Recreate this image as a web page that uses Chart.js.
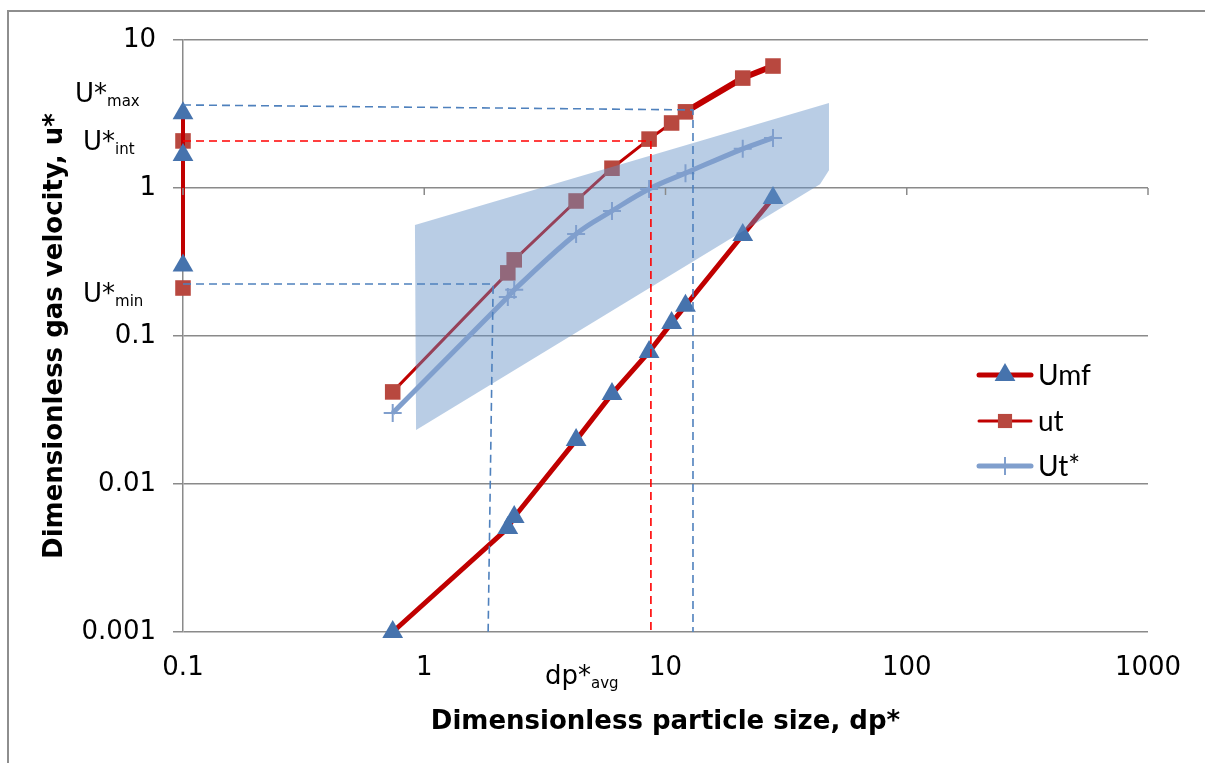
<!DOCTYPE html>
<html>
<head>
<meta charset="utf-8">
<script src="https://cdn.jsdelivr.net/npm/chart.js@4.4.1/dist/chart.umd.min.js"></script>
<style>
  html, body { margin: 0; padding: 0; background: #fff; overflow: hidden; }
  #chart { position: absolute; left: 0; top: 0; }
</style>
</head>
<body>
<canvas id="chart" width="1205" height="763"></canvas>
<script>
// Values (log-log axes)
const dpValues     = [0.74, 2.22, 2.36, 4.26, 6.0, 8.55, 10.6, 12.1, 20.9, 27.9];
const umfValues    = [0.001, 0.00504, 0.00598, 0.0198, 0.0406, 0.078, 0.1226, 0.16, 0.481, 0.856];
const utValues     = [0.0419, 0.267, 0.327, 0.817, 1.36, 2.14, 2.75, 3.27, 5.53, 6.67];
const utStarValues = [0.0302, 0.1836, 0.205, 0.489, 0.70, 0.985, null, 1.26, 1.84, 2.18];

// U* range drawn on the y axis (dp* = 0.1)
const rangeX       = [0.1, 0.1, 0.1];
const uStarRange   = [3.2, 1.67, 0.30];
const utRangeX     = [0.1, 0.1];
const utRange      = [2.08, 0.211];

// shaded band around Ut*
const bandX = [0.915, 47.6, 47.6, 43.7, 0.925];
const bandY = [0.562, 3.75, 1.32, 1.06, 0.0232];

// dashed guide lines
const uMaxGuideX = [0.1, 13.0, 13.0];
const uMaxGuideY = [3.64, 3.37, 0.001];
const uIntGuideX = [0.1, 8.7, 8.7];
const uIntGuideY = [2.08, 2.08, 0.001];
const uMinGuideX = [0.1, 1.93, 1.84];
const uMinGuideY = [0.2245, 0.2245, 0.001];

const xTickValues = [0.1, 1, 10, 100, 1000];
const xTickLabels = ['0.1', '1', '10', '100', '1000'];
const yTickValues = [0.001, 0.01, 0.1, 1, 10];
const yTickLabels = ['0.001', '0.01', '0.1', '1', '10'];

const RED = '#C00000';
const TRI_BLUE = '#4673AD';
const SQ_RED = '#B8483F';
const UT_BLUE = '#809FCD';
const GRID = '#8a8a8a';
const FONT = '"DejaVu Sans", Verdana, sans-serif';

function pts(xs, ys) {
    return xs.map((x, i) => ({ x: x, y: ys[i] })).filter(p => p.y !== null);
}

function guide(xs, ys, color) {
    return {
        data: pts(xs, ys), showLine: true, borderColor: color, borderWidth: 1.6,
        borderDash: [8, 5], pointRadius: 0, fill: false, order: 0, clip: false
    };
}

const overlayPlugin = {
    id: 'overlay',
    beforeDraw(chart) {
        // outer frame (left and top edges are the only ones inside the picture)
        const ctx = chart.ctx;
        ctx.save();
        ctx.strokeStyle = '#8e8e8e';
        ctx.lineWidth = 2;
        ctx.beginPath();
        ctx.moveTo(8, 763);
        ctx.lineTo(8, 11);
        ctx.lineTo(1205, 11);
        ctx.stroke();
        ctx.restore();
    },
    afterDraw(chart) {
        const ctx = chart.ctx;
        const xs = chart.scales.x, ys = chart.scales.y;
        ctx.save();

        // x axis tick marks sit on the u* = 1 line
        ctx.strokeStyle = GRID;
        ctx.lineWidth = 1.5;
        const yCross = ys.getPixelForValue(1);
        xTickValues.forEach(v => {
            const px = xs.getPixelForValue(v);
            ctx.beginPath();
            ctx.moveTo(px, yCross);
            ctx.lineTo(px, yCross + 7);
            ctx.stroke();
        });

        // labels with subscripts
        ctx.fillStyle = '#000';
        ctx.textBaseline = 'alphabetic';
        ctx.textAlign = 'left';
        const subLabel = (main, sub, x, y) => {
            ctx.font = '26px ' + FONT;
            ctx.fillText(main, x, y);
            const w = ctx.measureText(main).width;
            ctx.font = '15px ' + FONT;
            ctx.fillText(sub, x + w, y + 4);
        };
        subLabel('U*', 'max', 75, 102);
        subLabel('U*', 'int', 83, 150);
        subLabel('U*', 'min', 83, 302);
        subLabel('dp*', 'avg', 545, 684);

        // legend
        const items = [
            { text: 'Umf', color: RED, width: 5, style: 'triangle', radius: 12, fill: TRI_BLUE, y: 375 },
            { text: 'ut',  color: RED, width: 3, style: 'rect', radius: 10, fill: SQ_RED, y: 421 },
            { text: 'Ut*', color: UT_BLUE, width: 5, style: 'line', radius: 9, fill: UT_BLUE, y: 466 }
        ];
        items.forEach(it => {
            ctx.strokeStyle = it.color;
            ctx.lineWidth = it.width;
            ctx.lineCap = 'round';
            ctx.beginPath();
            ctx.moveTo(979, it.y);
            ctx.lineTo(1031, it.y);
            ctx.stroke();
            ctx.lineCap = 'butt';
            ctx.fillStyle = it.fill;
            ctx.strokeStyle = it.fill;
            ctx.lineWidth = 2;
            Chart.helpers.drawPoint(ctx, {
                pointStyle: it.style, radius: it.radius, rotation: it.style === 'line' ? 90 : 0,
                borderWidth: it.style === 'line' ? 2 : 0
            }, 1005, it.y);
            ctx.fillStyle = '#000';
            ctx.font = '28px Lato, "Open Sans", sans-serif';
            ctx.textBaseline = 'middle';
            ctx.fillText(it.text, 1038, it.y + 1);
        });
        ctx.restore();
    }
};

const datasets = [
    {
        label: 'Umf', data: pts(dpValues, umfValues), showLine: true,
        borderColor: RED, borderWidth: 5, pointStyle: 'triangle', pointRadius: 12,
        pointBackgroundColor: TRI_BLUE, pointBorderColor: TRI_BLUE, pointBorderWidth: 0,
        order: 3, clip: false
    },
    {
        label: 'U* range', data: pts(rangeX, uStarRange), showLine: true,
        borderColor: RED, borderWidth: 4, pointStyle: 'triangle', pointRadius: 12,
        pointBackgroundColor: TRI_BLUE, pointBorderColor: TRI_BLUE, pointBorderWidth: 0,
        order: 3, clip: false
    },
    {
        label: 'ut', data: pts(dpValues, utValues), showLine: true,
        borderColor: RED, borderWidth: 3,
        segment: { borderWidth: c => c.p0DataIndex >= 7 ? 6 : 3 },
        pointStyle: 'rect', pointRadius: 11,
        pointBackgroundColor: SQ_RED, pointBorderColor: SQ_RED, pointBorderWidth: 0,
        order: 3, clip: false
    },
    {
        label: 'ut range', data: pts(utRangeX, utRange), showLine: false,
        pointStyle: 'rect', pointRadius: 11,
        pointBackgroundColor: SQ_RED, pointBorderColor: SQ_RED, pointBorderWidth: 0,
        order: 3, clip: false
    },
    {
        label: 'band', data: pts(bandX, bandY), showLine: true, fill: 'shape',
        backgroundColor: 'rgba(100,144,198,0.45)', borderColor: 'rgba(0,0,0,0)', borderWidth: 1,
        pointRadius: 0, order: 2
    },
    {
        label: 'Ut*', data: pts(dpValues, utStarValues), showLine: true,
        borderColor: UT_BLUE, borderWidth: 5, tension: 0.4,
        pointStyle: 'cross', pointRadius: 9, pointBorderColor: UT_BLUE, pointBorderWidth: 2,
        order: 1, clip: false
    },
    guide(uMaxGuideX, uMaxGuideY, '#4F81BD'),
    guide(uIntGuideX, uIntGuideY, '#FF0000'),
    guide(uMinGuideX, uMinGuideY, '#4F81BD')
];

new Chart(document.getElementById('chart'), {
    type: 'scatter',
    data: { datasets: datasets },
    plugins: [overlayPlugin],
    options: {
        responsive: false,
        animation: false,
        devicePixelRatio: 1,
        layout: { padding: { left: 0, top: 40, right: 57, bottom: 0 } },
        plugins: { legend: { display: false }, tooltip: { enabled: false } },
        scales: {
            x: {
                type: 'logarithmic', min: 0.1, max: 1000,
                afterBuildTicks: s => { s.ticks = xTickValues.map(v => ({ value: v })); },
                afterFit: s => { s.height = 131; },
                grid: { display: false, drawTicks: false },
                border: { display: false },
                ticks: {
                    callback: (v, i) => xTickLabels[i], autoSkip: false, maxRotation: 0,
                    font: { family: FONT, size: 26 }, color: '#000', padding: 21
                },
                title: {
                    display: true, text: 'Dimensionless particle size, dp*', color: '#000',
                    font: { family: FONT, size: 26, weight: 'bold' }, padding: { top: 0, bottom: 25 }
                }
            },
            y: {
                type: 'logarithmic', min: 0.001, max: 10,
                afterBuildTicks: s => { s.ticks = yTickValues.map(v => ({ value: v })); },
                afterFit: s => { s.width = 183; },
                grid: { color: GRID, lineWidth: 1.5, tickLength: 10, drawTicks: true },
                border: { color: GRID, width: 1.5 },
                ticks: {
                    callback: (v, i) => yTickLabels[i], autoSkip: false,
                    font: { family: FONT, size: 26 }, color: '#000', padding: 17
                },
                title: {
                    display: true, text: 'Dimensionless gas velocity, u*', color: '#000',
                    font: { family: FONT, size: 26, weight: 'bold' }, padding: { top: 40, bottom: 0 }
                }
            }
        }
    }
});
</script>
</body>
</html>
